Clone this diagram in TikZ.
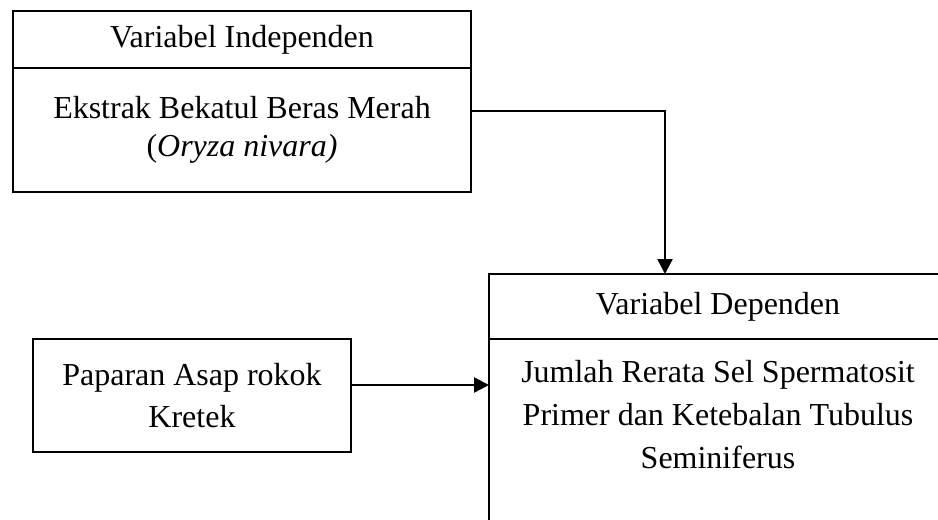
\documentclass[tikz,border=0pt]{standalone}
\usepackage{fontspec}
\setmainfont{Liberation Serif}
\usepackage{tikz}
\usetikzlibrary{calc}
\usetikzlibrary{arrows.meta}

\begin{document}
\begin{tikzpicture}[line width=1.35pt,
  box/.style={draw = black, rectangle, inner sep=0pt, outer sep=0pt, align=center, font=\fontsize{18.2}{24.4}\selectfont},
  link/.style={-{Triangle[length=0.3cm, width=0.3cm]}}]
\useasboundingbox (0,0) rectangle (18.76,-10.38);
\clip (0,0) rectangle (18.76,-10.38);

\draw (4.84,-0.79) node[name = indhead, box, minimum width=9.16cm, minimum height=1.14cm]{Variabel Independen};
\draw (indhead.south) node[name = indbody, box, anchor=north, minimum width=9.16cm, minimum height=2.48cm, font=\fontsize{18.2}{21.8}\selectfont]{Ekstrak Bekatul Beras Merah\\(\textit{Oryza nivara)}};

\draw (3.84,-7.91) node[name = pap, box, minimum width=6.36cm, minimum height=2.26cm]{Paparan Asap rokok\\Kretek};

\draw (14.36,-6.13) node[name = dephead, box, minimum width=9.16cm, minimum height=1.30cm]{Variabel Dependen};
\draw (dephead.south west) rectangle ++(9.16,-4.2);
\draw (dephead.south) + (0,-0.4) node[name = depbody, anchor=north, align=center, inner sep=0pt, font=\fontsize{18.2}{24.4}\selectfont]{Jumlah Rerata Sel Spermatosit\\Primer dan Ketebalan Tubulus\\Seminiferus};

\coordinate (from1) at ([yshift=0.38cm]indbody.east);
\coordinate (to1) at ([xshift=-1.06cm]dephead.north);
\coordinate (from2) at ([yshift=0.21cm]pap.east);

\draw[link] (from1) -| (to1);
\draw[link] (from2) -- (from2 -| dephead.west);

\end{tikzpicture}
\end{document}
